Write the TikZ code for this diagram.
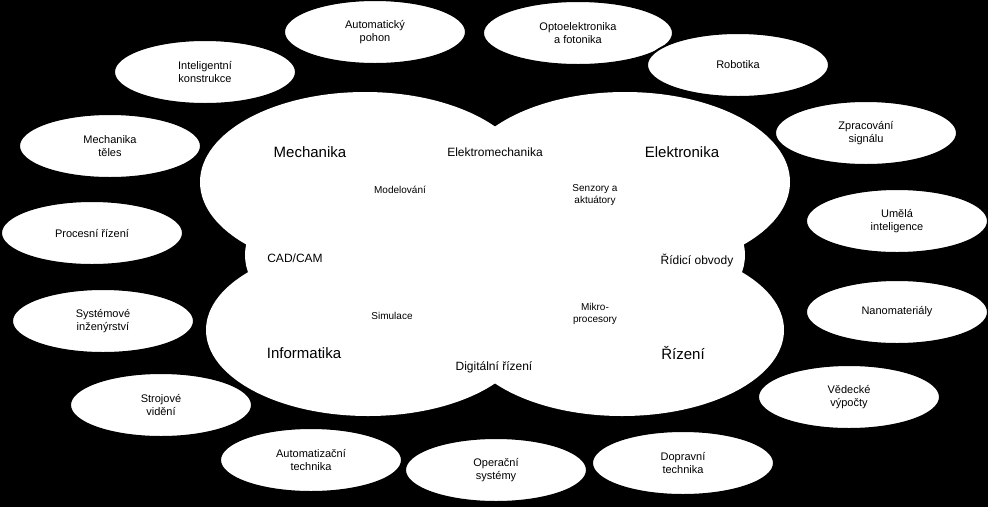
\documentclass[tikz,border=0pt]{standalone}
\usepackage{fontspec}
\setmainfont{Liberation Sans}
\tikzset{small/.style={draw=black,line width=2pt,fill=white,ellipse,minimum width=182pt,minimum height=64pt,align=center,font=\fontsize{11}{13}\selectfont,inner sep=0pt},
big/.style={font=\fontsize{15}{17}\selectfont},
mid/.style={font=\fontsize{12}{14}\selectfont,align=center},
sm/.style={font=\fontsize{10}{12}\selectfont,align=center}}
\usetikzlibrary{shapes.geometric}
\begin{document}
\begin{tikzpicture}[x=1pt,y=-1pt]
\fill[black] (0,0) rectangle (988,507);
\useasboundingbox (0,0) rectangle (988,507);
\fill[white] (365,182) ellipse (165 and 90);
\fill[white] (625,182) ellipse (165 and 90);
\fill[white] (368,330) ellipse (162 and 86);
\fill[white] (622,330) ellipse (162 and 86);
\fill[white] (495,255) ellipse (250 and 110);
\node[big] (mech) at (310,152) {Mechanika};
\node[mid] (em) at (495,152) {Elektromechanika};
\node[big] (el) at (682,152) {Elektronika};
\node[sm] (mod) at (400,190) {Modelování};
\node[sm] (sen) at (595,195) {Senzory a\\aktuátory};
\node[mid] (cad) at (295,258) {CAD/CAM};
\node[mid] (rid) at (697,260) {Řídicí obvody};
\node[sm] (sim) at (392,316) {Simulace};
\node[sm] (mik) at (595,314) {Mikro-\\procesory};
\node[big] (inf) at (304,353) {Informatika};
\node[mid] (dig) at (494,367) {Digitální řízení};
\node[big] (riz) at (683,353) {Řízení};
\node[small] (e1) at (375,32) {Automatický\\pohon};
\node[small,minimum width=190pt] (e2) at (578,33) {Optoelektronika\\a fotonika};
\node[small] (e3) at (738,65) {Robotika};
\node[small] (e4) at (866,133) {Zpracování\\signálu};
\node[small] (e5) at (897,221) {Umělá\\inteligence};
\node[small] (e6) at (897,312) {Nanomateriály};
\node[small] (e7) at (849,397) {Vědecké\\výpočty};
\node[small] (e8) at (683,463) {Dopravní\\technika};
\node[small] (e9) at (496,470) {Operační\\systémy};
\node[small] (e10) at (311,460) {Automatizační\\technika};
\node[small] (e11) at (161,405) {Strojové\\vidění};
\node[small] (e12) at (103,321) {Systémové\\inženýrství};
\node[small] (e13) at (92,233) {Procesní řízení};
\node[small] (e14) at (110,146) {Mechanika\\těles};
\node[small] (e15) at (205,72) {Inteligentní\\konstrukce};
\end{tikzpicture}
\end{document}
